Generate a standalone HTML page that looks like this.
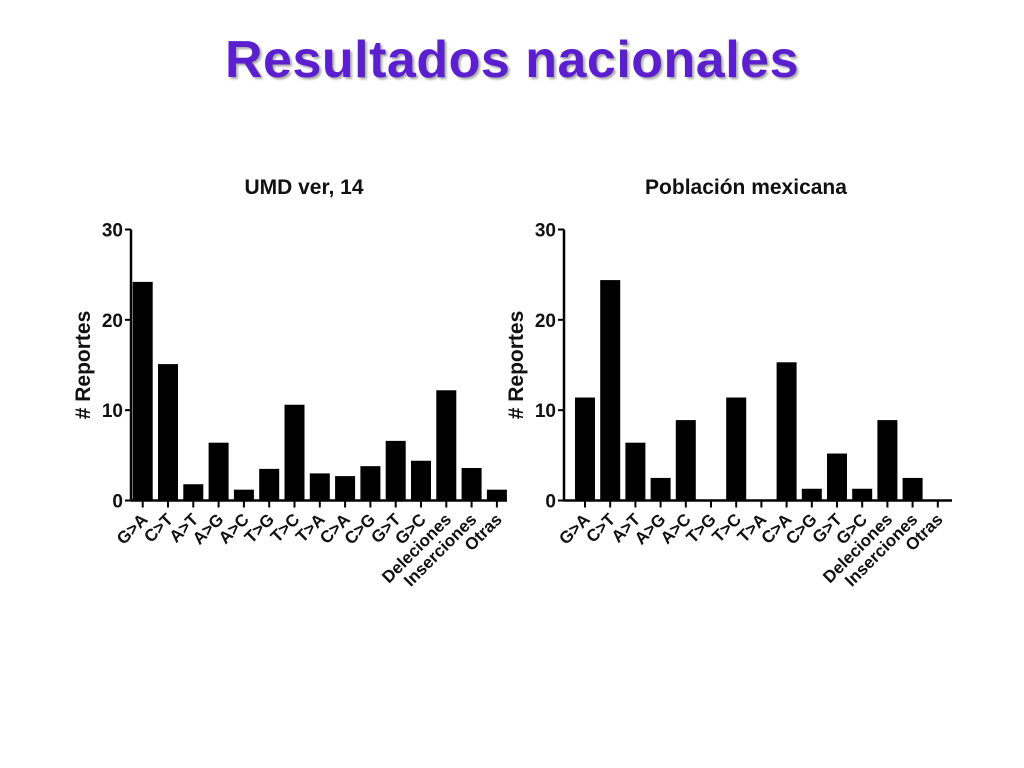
<!DOCTYPE html>
<html><head><meta charset="utf-8"><style>
body{margin:0;background:#fff;width:1024px;height:768px;overflow:hidden;font-family:"Liberation Sans",sans-serif}
h1{position:absolute;left:0;width:1024px;top:30px;margin:0;text-align:center;font-size:52px;font-weight:bold;color:#5b1fd0;text-shadow:2px 2px 2px #aaa;letter-spacing:0.5px}
</style></head><body>
<h1>Resultados nacionales</h1>
<svg id="s" width="1024" height="768" style="position:absolute;left:0;top:0"></svg>
<script>
const categoriesUMD=["G>A","C>T","A>T","A>G","A>C","T>G","T>C","T>A","C>A","C>G","G>T","G>C","Deleciones","Inserciones","Otras"];
const valuesUMD=[24.2,15.1,1.8,6.4,1.2,3.5,10.6,3.0,2.7,3.8,6.6,4.4,12.2,3.6,1.2];
const categoriesMX=["G>A","C>T","A>T","A>G","A>C","T>G","T>C","T>A","C>A","C>G","G>T","G>C","Deleciones","Inserciones","Otras"];
const valuesMX=[11.4,24.4,6.4,2.5,8.9,0,11.4,0,15.3,1.3,5.2,1.3,8.9,2.5,0];
const yTicks=[0,10,20,30];
const NS="http://www.w3.org/2000/svg";
const svg=document.getElementById('s');
function mk(t,a,txt){const e=document.createElementNS(NS,t);for(const k in a)e.setAttribute(k,a[k]);if(txt!==undefined)e.textContent=txt;svg.appendChild(e);return e;}
function chart(o,cats,vals,title,prefix){
  const y=v=>o.y0-(v/30)*(o.y0-o.y30);
  const x=i=>o.x1+i*o.step;
  let e=mk('text',{x:o.tx,y:194,'text-anchor':'middle','font-size':21,'font-weight':'bold',fill:'#111'},title);
  
  
  e=mk('text',{x:0,y:0,transform:`translate(${o.ax-41},${(o.y0+o.y30)/2}) rotate(-90)`,'text-anchor':'middle','font-size':21,'font-weight':'bold',fill:'#111'},'# Reportes');
  
  
  vals.forEach((v,i)=>{
    if(v>0){const b=mk('rect',{x:x(i)-10,y:y(v),width:20,height:o.y0-y(v),fill:'#000'});
    
    }
    mk('line',{x1:x(i),x2:x(i),y1:o.y0,y2:o.y0+7,stroke:'#000','stroke-width':2});
    const t=mk('text',{x:0,y:0,transform:`translate(${x(i)+6},${o.y0+20}) rotate(-45)`,'text-anchor':'end','font-size':17,'font-weight':'bold',fill:'#111'},cats[i]);
    
    
  });
  mk('line',{x1:o.ax,x2:o.ax,y1:o.y30,y2:o.y0+1,stroke:'#000','stroke-width':2.5});
  mk('line',{x1:o.ax,x2:o.xe,y1:o.y0,y2:o.y0,stroke:'#000','stroke-width':2.5});
  yTicks.forEach(v=>{
    mk('line',{x1:o.ax-6,x2:o.ax,y1:y(v),y2:y(v),stroke:'#000','stroke-width':2});
    const t=mk('text',{x:o.ax-8,y:y(v)+7,'text-anchor':'end','font-size':19,'font-weight':'bold',fill:'#111'},v);
    
    
  });
}
chart({ax:131,xe:507,y0:500.5,y30:229.5,x1:142.7,step:25.3,tx:304},categoriesUMD,valuesUMD,'UMD ver, 14','umd');
chart({ax:564,xe:952,y0:500.5,y30:229.5,x1:585,step:25.2,tx:746},categoriesMX,valuesMX,'Población mexicana','mx');
</script>
</body></html>
